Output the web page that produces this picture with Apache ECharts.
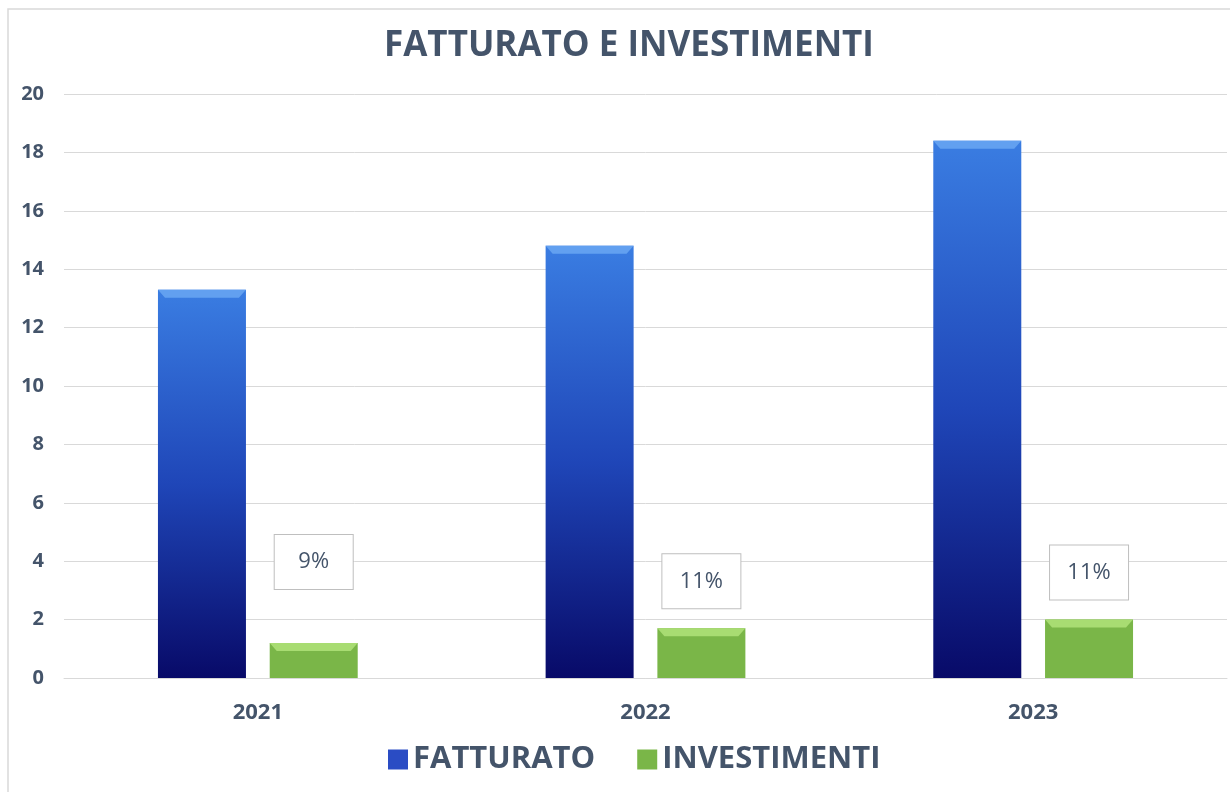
<!DOCTYPE html>
<html>
<head>
<meta charset="utf-8">
<script src="https://cdn.jsdelivr.net/npm/echarts@6/dist/echarts.min.js"></script>
<style>
  html, body { margin: 0; padding: 0; background: #fff; }
  #chart { width: 1230px; height: 792px; }
</style>
</head>
<body>
<div id="chart"></div>
<script>
// dati
const years = ['2021', '2022', '2023']
const fatturato = [13.3, 14.8, 18.4]
const investimenti = [1.2, 1.7, 2.0]
const invLabels = ['9%', '11%', '11%']
const labelGap = [54, 20, 20]

const textColor = '#44546a'
const font = '"Open Sans", "Liberation Sans", sans-serif'
const barW = 88

const blueFill = new echarts.graphic.LinearGradient(0, 0, 0, 1, [
  { offset: 0, color: '#3a7de2' },
  { offset: 0.5, color: '#1f46b8' },
  { offset: 1, color: '#080a68' }
])
const greenFill = '#7ab648'

const chart = echarts.init(document.getElementById('chart'))

chart.setOption({
  animation: false,
  backgroundColor: '#fff',
  title: {
    text: 'FATTURATO E INVESTIMENTI',
    left: 379,
    top: 24,
    textStyle: { color: textColor, fontFamily: font, fontWeight: 'bold', fontSize: 35 }
  },
  graphic: [{
    type: 'rect',
    shape: { x: 8, y: 9, width: 1240, height: 800 },
    style: { fill: 'none', stroke: '#d9d9d9', lineWidth: 1.5 },
    silent: true
  }],
  legend: {
    bottom: 12,
    left: 383,
    itemWidth: 20,
    itemHeight: 20,
    itemGap: 42,
    data: [
      { name: 'FATTURATO', icon: 'rect', itemStyle: { color: '#2a4cc4', borderWidth: 0 } },
      { name: 'INVESTIMENTI', icon: 'rect', itemStyle: { color: '#7ab648', borderWidth: 0 } }
    ],
    textStyle: { color: textColor, fontFamily: font, fontWeight: 'bold', fontSize: 31 }
  },
  grid: { left: 64, right: 3, top: 94, bottom: 114 },
  xAxis: {
    type: 'category',
    data: years,
    axisLine: { lineStyle: { color: '#d9d9d9' } },
    axisTick: { show: false },
    axisLabel: { color: textColor, fontFamily: font, fontWeight: 'bold', fontSize: 22, margin: 24 }
  },
  yAxis: {
    type: 'value',
    min: 0,
    max: 20,
    interval: 2,
    axisLine: { show: false },
    axisTick: { show: false },
    axisLabel: { color: textColor, fontFamily: font, fontWeight: 'bold', fontSize: 20, margin: 20 },
    splitLine: { lineStyle: { color: '#d9d9d9' } }
  },
  series: [
    {
      name: 'FATTURATO',
      type: 'bar',
      barWidth: barW,
      barGap: '27%',
      data: fatturato,
      itemStyle: { color: blueFill }
    },
    {
      name: 'INVESTIMENTI',
      type: 'bar',
      barWidth: barW,
      barGap: '27%',
      data: investimenti.map((v, i) => ({
        value: v,
        label: {
          show: true,
          position: 'top',
          distance: labelGap[i],
          formatter: invLabels[i]
        }
      })),
      itemStyle: { color: greenFill },
      label: {
        color: textColor,
        fontFamily: font,
        fontSize: 22,
        backgroundColor: '#fff',
        borderColor: '#bfbfbf',
        borderWidth: 1,
        width: 52,
        height: 30,
        lineHeight: 30,
        align: 'center',
        padding: [12, 13, 12, 13]
      }
    },
    // smussatura superiore (effetto bevel)
    {
      name: 'FATTURATO',
      type: 'pictorialBar',
      barWidth: barW,
      barGap: '27%',
      symbol: 'path://M0,0 L100,0 L92,10 L8,10 Z',
      symbolSize: [barW, 8],
      symbolPosition: 'end',
      symbolOffset: [0, 0],
      data: fatturato,
      itemStyle: { color: '#62a0f0' },
      z: 3,
      silent: true
    },
    {
      name: 'INVESTIMENTI',
      type: 'pictorialBar',
      barWidth: barW,
      barGap: '27%',
      symbol: 'path://M0,0 L100,0 L92,10 L8,10 Z',
      symbolSize: [barW, 8],
      symbolPosition: 'end',
      symbolOffset: [0, 0],
      data: investimenti,
      itemStyle: { color: '#a8dc72' },
      z: 3,
      silent: true
    }
  ]
})
</script>
</body>
</html>
